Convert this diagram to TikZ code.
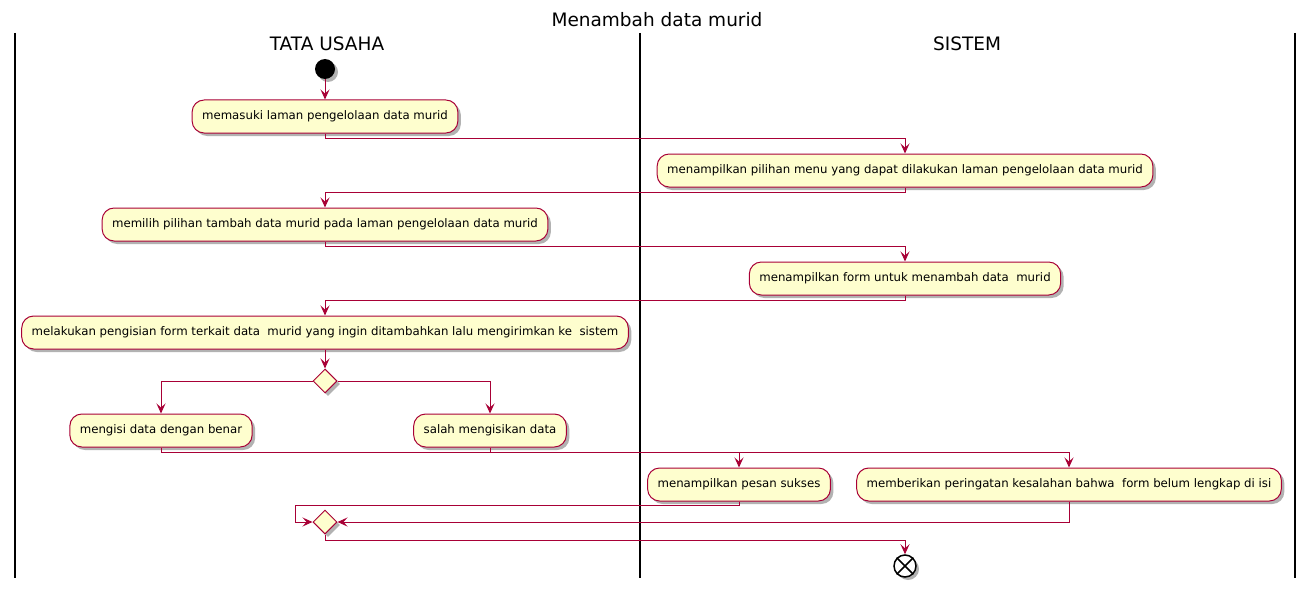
\documentclass[tikz,border=0pt]{standalone}
\usepackage{fontspec}
\setmainfont{DejaVu Sans}
\usepackage{xcolor}
\usetikzlibrary{shapes.geometric}
\usetikzlibrary{arrows.meta}
\usetikzlibrary{shadows}

\definecolor{umlred}{HTML}{A80036}
\definecolor{umlfill}{HTML}{FEFECE}

\begin{document}
\begin{tikzpicture}[
  x=1pt,y=-1pt,
  every node/.style={font=\fontsize{11.75}{14}\selectfont},
  umlshadow/.style={drop shadow={shadow xshift=3pt,shadow yshift=-3pt,opacity=0.3,fill=black}},
  act/.style={rectangle,rounded corners=12pt,draw=umlred,fill=umlfill,line width=1pt,
    minimum height=33pt,inner xsep=10pt,inner ysep=0pt,umlshadow},
  branch/.style={diamond,draw=umlred,fill=umlfill,line width=1pt,minimum width=24pt,
    minimum height=24pt,inner sep=0pt,umlshadow},
  startdot/.style={circle,fill=black,minimum size=20pt,inner sep=0pt,umlshadow},
  stopdot/.style={circle,draw=black,fill=white,line width=1.5pt,minimum size=22pt,inner sep=0pt,umlshadow},
  lane/.style={draw=black,line width=2pt},
  lanetitle/.style={font=\fontsize{18.5}{21}\selectfont},
  flow/.style={draw=umlred,line width=1pt,-{Stealth[length=10pt,width=9pt,inset=4pt]}}
]
\useasboundingbox (0,0) rectangle (1313,591);

\node[lanetitle] (title) at (657,20) {Menambah data murid};
\node[lanetitle] (tu) at (327,44) {TATA USAHA};
\node[lanetitle] (sis) at (967,44) {SISTEM};
\draw[lane] (15,33) -- (15,578);
\draw[lane] (640,33) -- (640,578);
\draw[lane] (1295,33) -- (1295,578);

\node[startdot] (start) at (325,69) {};
\node[act] (a1) at (325,116.5) {memasuki laman pengelolaan data murid};
\node[act] (a2) at (905,170.5) {menampilkan pilihan menu yang dapat dilakukan laman pengelolaan data murid};
\node[act] (a3) at (325,224.5) {memilih pilihan tambah data murid pada laman pengelolaan data murid};
\node[act] (a4) at (905,278.5) {menampilkan form untuk menambah data~ murid};
\node[act] (a5) at (325,332.5) {melakukan pengisian form terkait data~ murid yang ingin ditambahkan lalu mengirimkan ke~ sistem};
\node[branch] (split) at (325,381) {};
\node[act] (b1) at (161,430.5) {mengisi data dengan benar};
\node[act] (b2) at (490,430.5) {salah mengisikan data};
\node[act] (c1) at (739,484.5) {menampilkan pesan sukses};
\node[act] (c2) at (1069,484.5) {memberikan peringatan kesalahan bahwa~ form belum lengkap di isi};
\node[branch] (merge) at (325,522) {};
\node[stopdot] (stop) at (905,566) {};
\draw[line width=1.5pt] (stop.north west) -- (stop.south east) (stop.north east) -- (stop.south west);
\coordinate (loop) at (295,522);

\draw[flow] (start) -- (a1);
\draw[flow] (a1.south) -- ++(0,5) -| (a2.north);
\draw[flow] (a2.south) -- ++(0,5) -| (a3.north);
\draw[flow] (a3.south) -- ++(0,5) -| (a4.north);
\draw[flow] (a4.south) -- ++(0,5) -| (a5.north);
\draw[flow] (a5.south) -- (split.north);
\draw[flow] (split.west) -| (b1.north);
\draw[flow] (split.east) -| (b2.north);
\draw[flow] (b1.south) -- ++(0,5) -| (c1.north);
\draw[flow] (b2.south) -- ++(0,5) -| (c2.north);
\draw[flow] (c1.south) -- ++(0,4) -| (loop) -- (merge.west);
\draw[flow] (c2.south) |- (merge.east);
\draw[flow] (merge.south) -- ++(0,6) -| (stop.north);
\end{tikzpicture}
\end{document}
